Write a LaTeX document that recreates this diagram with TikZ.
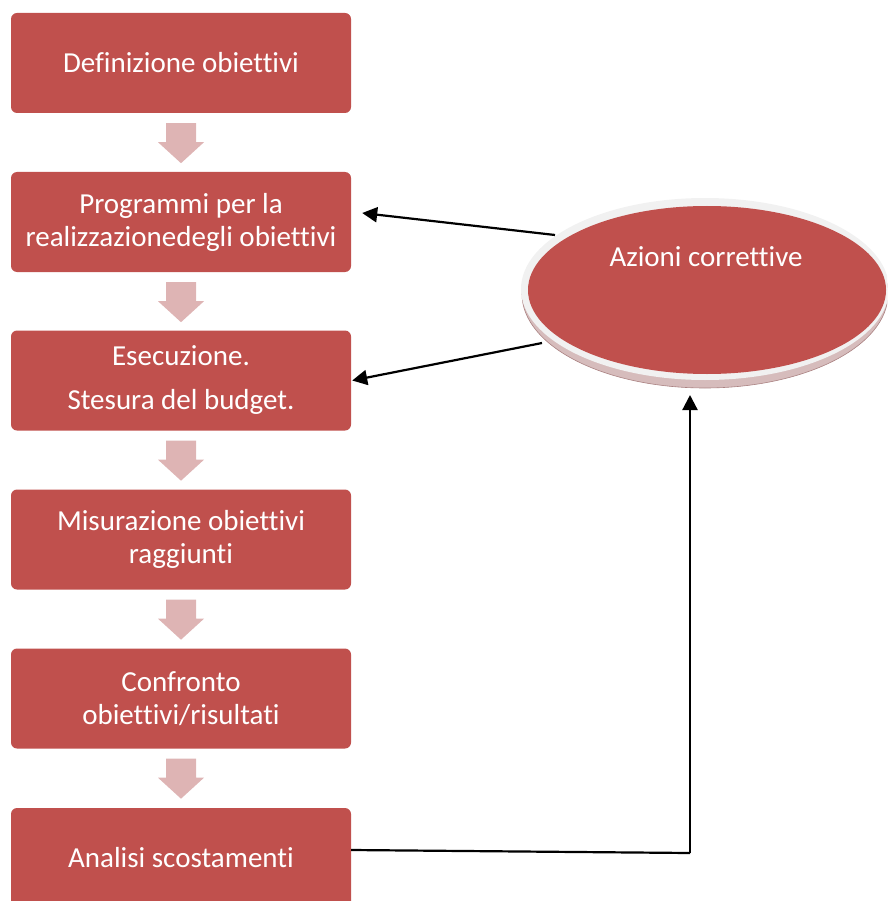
\documentclass[tikz,border=0pt]{standalone}
\usepackage{fontspec}
\setmainfont{Carlito}[Ligatures=NoCommon]
\usetikzlibrary{calc,arrows.meta,shapes.geometric}
\definecolor{boxred}{RGB}{192,80,77}
\definecolor{pinkarr}{RGB}{222,180,180}
\definecolor{rimgray}{RGB}{241,241,241}
\definecolor{shadepink}{RGB}{214,188,188}
\definecolor{shadeline}{RGB}{170,130,130}
\begin{document}
\begin{tikzpicture}[x=1pt,y=-1pt,
  stepbox/.style={draw=none, fill=boxred, rounded corners=6pt, minimum width=340pt, minimum height=100pt,
    text=white, font=\fontsize{29}{33}\selectfont, align=center, inner sep=0pt},
  flowarrow/.style={fill=pinkarr, draw=none},
  conn/.style={line width=2.2pt, -{Triangle[length=15pt,width=15pt]}},
  txt/.style={text=white, font=\fontsize{29}{33}\selectfont, inner sep=0pt}]
\useasboundingbox (0,0) rectangle (887,901);
\begin{scope}
\clip (0,0) rectangle (887,901);
% boxes
\node[stepbox] (b1) at (181,63) {Definizione obiettivi};
\node[stepbox] (b2) at (181,222) {Programmi per la\\realizzazionedegli obiettivi};
\node[stepbox] (b3) at (181,380.5) {Esecuzione.\\[11pt]Stesura del budget.};
\node[stepbox] (b4) at (181,539.5) {Misurazione obiettivi\\raggiunti};
\node[stepbox] (b5) at (181,698.5) {Confronto\\obiettivi/risultati};
\node[stepbox] (b6) at (181,858) {Analisi scostamenti};
% block arrows between boxes
\foreach \a in {b1,b2,b3,b4,b5}{
  \fill[flowarrow] ($(\a.south)+(-15,10)$) -- ($(\a.south)+(15,10)$) -- ($(\a.south)+(15,29)$)
    -- ($(\a.south)+(23,29)$) -- ($(\a.south)+(0,50)$) -- ($(\a.south)+(-23,29)$)
    -- ($(\a.south)+(-15,29)$) -- cycle;
}
% ellipse (tilted disk)
\coordinate (ec) at (705,290);
\fill[shadepink, draw=shadeline, line width=0.6pt] ($(ec)+(0,4)$) ellipse [x radius=183pt, y radius=94pt];
\fill[rimgray] ($(ec)+(0,-1)$) ellipse [x radius=184pt, y radius=91pt];
\node[ellipse, fill=boxred, draw=none, minimum width=358pt, minimum height=168pt, inner sep=0pt] (az) at ($(ec)+(2,0)$) {};
\node[txt] (aztext) at ($(az.center)+(-1,-33)$) {Azioni correttive};
% connectors
\draw[conn] ($(az.center)+(-152,-55)$) -- ($(b2.east)+(11,-9)$);
\draw[conn] ($(az.center)+(-165,53)$) -- ($(b3.east)+(1,0)$);
\coordinate (corner) at (690,853);
\coordinate (azbottom) at ($(az.center)+(-17,105)$);
\draw[line width=2.2pt] ($(b6.east)+(0,-8)$) -- (corner);
\draw[conn] (corner) -- (azbottom);
\end{scope}
\end{tikzpicture}
\end{document}
